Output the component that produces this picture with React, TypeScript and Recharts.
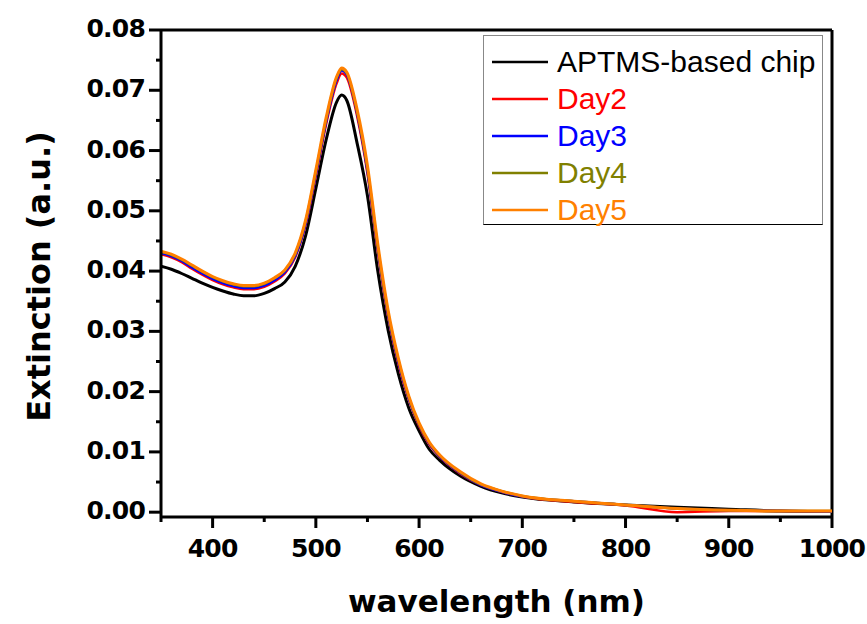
import { Legend, Line, LineChart, ReferenceLine, XAxis, YAxis } from 'recharts';

const wavelengths = [
  350, 360, 370, 380, 390, 400, 410, 420, 430, 440, 450, 460, 470, 480, 490, 500, 510, 520, 525, 530,
  540, 550, 560, 570, 580, 590, 600, 610, 620, 640, 660, 680, 700, 750, 800, 850, 900, 950, 1000,
];

const aptms = [
  0.0408, 0.0403, 0.0396, 0.0388, 0.038, 0.0373, 0.0367, 0.0362, 0.0359, 0.0359, 0.0363, 0.0371, 0.0382,
  0.0408, 0.0458, 0.0537, 0.0618, 0.068, 0.0692, 0.0683, 0.0612, 0.0525, 0.04, 0.0302, 0.0229, 0.0173,
  0.0135, 0.0104, 0.0086, 0.006, 0.0043, 0.0032, 0.0025, 0.0017, 0.0012, 0.0008, 0.0005, 0.0002, 0.0001,
];

const day2 = [
  0.0428, 0.0423, 0.0415, 0.0404, 0.0394, 0.0385, 0.0378, 0.0373, 0.037, 0.037, 0.0374, 0.0383, 0.0396,
  0.0423, 0.0476, 0.0558, 0.0644, 0.0711, 0.0728, 0.0721, 0.0657, 0.0562, 0.0433, 0.0325, 0.0246, 0.0187,
  0.0143, 0.0112, 0.0092, 0.0064, 0.0045, 0.0034, 0.0026, 0.0017, 0.0011, 0.0, 0.0002, 0.0002, 0.0001,
];

const day3 = [
  0.043, 0.0425, 0.0417, 0.0406, 0.0396, 0.0387, 0.038, 0.0375, 0.0372, 0.0372, 0.0376, 0.0385, 0.0398,
  0.0425, 0.0478, 0.0561, 0.0648, 0.0716, 0.0733, 0.0726, 0.0662, 0.0566, 0.0437, 0.0328, 0.0249, 0.0189,
  0.0145, 0.0114, 0.0093, 0.0065, 0.0045, 0.0034, 0.0026, 0.0018, 0.0012, 0.0006, 0.0003, 0.0002, 0.0001,
];

const day4 = [
  0.0432, 0.0427, 0.0419, 0.0409, 0.0399, 0.039, 0.0383, 0.0378, 0.0375, 0.0375, 0.0379, 0.0388, 0.0401,
  0.0428, 0.0482, 0.0565, 0.0652, 0.072, 0.0735, 0.0728, 0.0664, 0.057, 0.044, 0.0331, 0.0252, 0.0191,
  0.0146, 0.0115, 0.0094, 0.0066, 0.0046, 0.0035, 0.0027, 0.0018, 0.0012, 0.0006, 0.0003, 0.0002, 0.0002,
];

const day5 = [
  0.0433, 0.0428, 0.042, 0.041, 0.04, 0.0391, 0.0384, 0.0379, 0.0376, 0.0376, 0.038, 0.0389, 0.0402,
  0.043, 0.0484, 0.0568, 0.0655, 0.0722, 0.0737, 0.073, 0.0668, 0.0575, 0.0445, 0.0335, 0.0255, 0.0193,
  0.0148, 0.0116, 0.0095, 0.0067, 0.0047, 0.0035, 0.0027, 0.0018, 0.0012, 0.0006, 0.0003, 0.0002, 0.0002,
];

const seriesKeys = ['aptms', 'day2', 'day3', 'day4', 'day5'];
const seriesNames = ['APTMS-based chip', 'Day2', 'Day3', 'Day4', 'Day5'];
const seriesColors = ['#000000', '#ff0000', '#0000ff', '#808000', '#ff8000'];
const seriesValues = [aptms, day2, day3, day4, day5];

const xTicks = [350, 400, 450, 500, 550, 600, 650, 700, 750, 800, 850, 900, 950, 1000];
const yTicks = [
  0, 0.005, 0.01, 0.015, 0.02, 0.025, 0.03, 0.035, 0.04, 0.045, 0.05, 0.055, 0.06, 0.065, 0.07, 0.075, 0.08,
];

const data = wavelengths.map((wl, i) => {
  const row: Record<string, number> = { wl };
  seriesKeys.forEach((k, s) => {
    row[k] = seriesValues[s][i];
  });
  return row;
});

const boldFont = "'DejaVu Sans', sans-serif";

function XTick({ x, y, payload }: any) {
  const v = payload.value;
  const major = v % 100 === 0;
  return (
    <g>
      <line x1={x} x2={x} y1={y} y2={y + (major ? 11 : 5)} stroke="#000" strokeWidth={3} />
      {major && (
        <text
          x={x}
          y={y + 40}
          textAnchor="middle"
          fontFamily={boldFont}
          fontWeight="bold"
          fontSize={25}
          letterSpacing={-0.8}
          fill="#000"
        >
          {v}
        </text>
      )}
    </g>
  );
}

function YTick({ x, y, payload }: any) {
  const v = payload.value;
  const major = Math.round(v * 1000) % 10 === 0;
  return (
    <g>
      <line x1={x - (major ? 12 : 5)} x2={x} y1={y} y2={y} stroke="#000" strokeWidth={3} />
      {major && (
        <text
          x={x - 16}
          y={y + 7}
          textAnchor="end"
          fontFamily={boldFont}
          fontWeight="bold"
          fontSize={25}
          letterSpacing={-0.8}
          fill="#000"
        >
          {v.toFixed(2)}
        </text>
      )}
    </g>
  );
}

function LegendBox({ payload }: any) {
  return (
    <div
      style={{
        width: 340,
        height: 190,
        boxSizing: 'border-box',
        border: '1px solid #888',
        borderBottom: '1px solid #000',
        background: '#fff',
        paddingTop: 7,
        fontFamily: "'Liberation Sans', Arial, sans-serif",
        fontSize: 30,
      }}
    >
      {(payload || []).map((p: any) => (
        <div key={p.value} style={{ display: 'flex', alignItems: 'center', height: 37 }}>
          <svg width={56} height={4} style={{ marginLeft: 8, flexShrink: 0 }}>
            <line x1={0} x2={56} y1={2} y2={2} stroke={p.color} strokeWidth={2.5} />
          </svg>
          <span style={{ marginLeft: 9, color: p.color, lineHeight: '37px', whiteSpace: 'nowrap' }}>{p.value}</span>
        </div>
      ))}
    </div>
  );
}

export default function App() {
  return (
    <div style={{ position: 'absolute', left: 0, top: 0, width: 867, height: 624, background: '#fff' }}>
      <LineChart width={867} height={624} data={data} margin={{ top: 30, right: 35, bottom: 0, left: 0 }}>
        <XAxis
          dataKey="wl"
          type="number"
          domain={[350, 1000]}
          ticks={xTicks}
          interval={0}
          height={107}
          tickSize={0}
          tickMargin={0}
          tick={<XTick />}
          axisLine={{ stroke: '#000', strokeWidth: 3 }}
          tickLine={false}
          allowDataOverflow
          label={{
            value: 'wavelength (nm)',
            position: 'insideBottom',
            offset: 12,
            style: { fontFamily: boldFont, fontWeight: 'bold', fontSize: 31, fill: '#000' },
          }}
        />
        <YAxis
          type="number"
          domain={[-0.0008, 0.08]}
          ticks={yTicks}
          interval={0}
          width={161}
          tickSize={0}
          tickMargin={0}
          tick={<YTick />}
          axisLine={{ stroke: '#000', strokeWidth: 3 }}
          tickLine={false}
          allowDataOverflow
          label={({ viewBox }: any) => (
            <text
              transform={`translate(50, ${viewBox.y + viewBox.height / 2 + 3}) rotate(-90)`}
              textAnchor="middle"
              fontFamily={boldFont}
              fontWeight="bold"
              fontSize={32}
              fill="#000"
            >
              Extinction (a.u.)
            </text>
          )}
        />
        <ReferenceLine y={0.08} stroke="#000" strokeWidth={3} />
        <ReferenceLine x={1000} stroke="#000" strokeWidth={3} />
        <Legend
          layout="vertical"
          align="center"
          verticalAlign="middle"
          width={340}
          height={190}
          wrapperStyle={{ left: 483, top: 35 }}
          content={<LegendBox />}
        />
        {seriesKeys.map((k, s) => (
          <Line
            key={k}
            dataKey={k}
            name={seriesNames[s]}
            type="monotone"
            stroke={seriesColors[s]}
            strokeWidth={s === 0 || s === 4 ? 3 : 2.5}
            dot={false}
            activeDot={false}
            isAnimationActive={false}
          />
        ))}
      </LineChart>
    </div>
  );
}
